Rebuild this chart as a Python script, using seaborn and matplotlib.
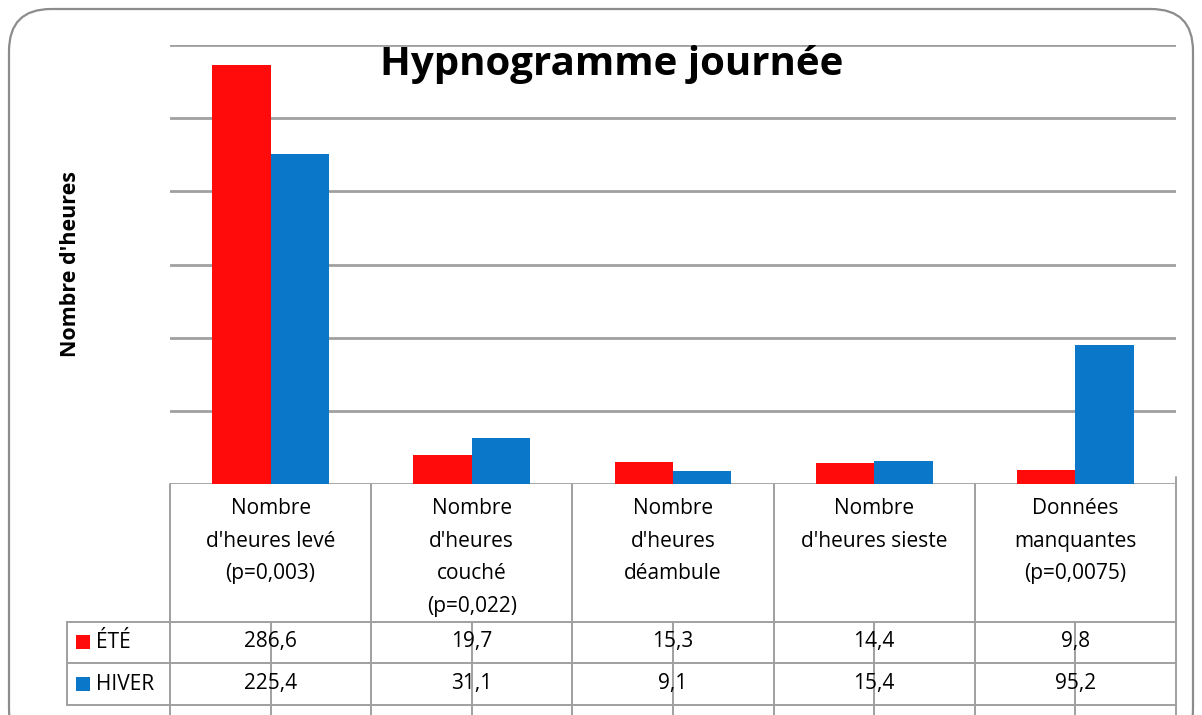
import matplotlib
matplotlib.use('Agg')
import matplotlib.pyplot as plt
from matplotlib.patches import FancyBboxPatch, Rectangle
import seaborn as sns
import pandas as pd

# --- data ---
categories = [
    "Nombre\nd'heures levé\n(p=0,003)",
    "Nombre\nd'heures\ncouché\n(p=0,022)",
    "Nombre\nd'heures\ndéambule",
    "Nombre\nd'heures sieste",
    "Données\nmanquantes\n(p=0,0075)",
]
saisons = ['ÉTÉ', 'HIVER']
ete = [286.6, 19.7, 15.3, 14.4, 9.8]
hiver = [225.4, 31.1, 9.1, 15.4, 95.2]
colors = ['#ff0b0b', '#0a77c9']

df = pd.DataFrame({
    'categorie': categories * 2,
    'saison': [saisons[0]] * len(ete) + [saisons[1]] * len(hiver),
    'heures': ete + hiver,
})

sns.set_style('white')
plt.rcParams['font.family'] = ['Open Sans', 'DejaVu Sans']
plt.rcParams['text.color'] = 'black'

W, H = 1202, 715
fig = plt.figure(figsize=(W / 100, H / 100), dpi=100)

# plot area in pixels: x 170..1176, y 45..484
x0, x1, ytop, ybase = 170, 1176, 45, 484
ax = fig.add_axes([x0 / W, (H - ybase) / H, (x1 - x0) / W, (ybase - ytop) / H])

sns.barplot(data=df, x='categorie', y='heures', hue='saison', order=categories,
            hue_order=saisons, palette=colors, width=0.58, gap=0, saturation=1,
            linewidth=0, edgecolor='none', legend=False, ax=ax)

grid_c = '#a0a0a0'
ax.set_xlim(-0.5, len(categories) - 0.5)
ax.set_ylim(0, 300)
ax.set_yticks(range(0, 301, 50))
ax.set_axisbelow(True)
ax.grid(axis='y', color=grid_c, linewidth=2)
ax.grid(axis='x', visible=False)
for s in ax.spines.values():
    s.set_visible(False)
ax.tick_params(axis='y', left=False, labelleft=False)
ax.tick_params(axis='x', length=6, width=1.2, color=grid_c, labelbottom=False)
ax.set_xlabel('')
ax.set_ylabel('')

# --- data table under the chart ---
axh = ybase - ytop
tr = ax.get_xaxis_transform()


def fy(py):
    return (ybase - py) / axh


col_w = (x1 - x0) / len(categories)
left_x = -0.5 - (x0 - 67) / col_w
line_kw = dict(color=grid_c, linewidth=1.4, transform=tr, clip_on=False)

for i in range(len(categories) + 1):
    top = fy(477) if i == len(categories) else fy(ybase)
    ax.plot([i - 0.5, i - 0.5], [top, fy(H)], **line_kw)
for py in [622, 663, 705]:
    ax.plot([left_x, len(categories) - 0.5], [fy(py), fy(py)], **line_kw)
ax.plot([left_x, left_x], [fy(622), fy(705)], **line_kw)
for i in range(len(categories)):
    ax.plot([i, i], [fy(622), fy(H)], **line_kw)

txt_size = 15
for i, cat in enumerate(categories):
    ax.text(i, fy(498), cat, transform=tr, ha='center', va='top',
            fontsize=txt_size, linespacing=1.72, clip_on=False)
    ax.text(i, fy(641), f'{ete[i]:.1f}'.replace('.', ','), transform=tr,
            ha='center', va='center', fontsize=txt_size, clip_on=False)
    ax.text(i, fy(683), f'{hiver[i]:.1f}'.replace('.', ','), transform=tr,
            ha='center', va='center', fontsize=txt_size, clip_on=False)

for j, (s, c) in enumerate(zip(saisons, colors)):
    cy = 642 + j * 42
    ax.add_patch(Rectangle((-0.5 - (x0 - 76) / col_w, fy(cy + 7)), 14 / col_w,
                           14 / axh, transform=tr, facecolor=c,
                           edgecolor='none', clip_on=False))
    ax.text(-0.5 - (x0 - 96) / col_w, fy(cy), s, transform=tr, ha='left',
            va='center', fontsize=txt_size, clip_on=False)

# --- titles ---
fig.text(612 / W, 1 - 65 / H, 'Hypnogramme journée', ha='center', va='center',
         fontsize=29, fontweight='bold')
fig.text(70 / W, 1 - 264 / H, "Nombre d'heures", ha='center', va='center',
         rotation=90, fontsize=15.5, fontweight='bold')

# rounded chart border
border = FancyBboxPatch((9 / W, -0.05), (W - 18) / W, 1 - 9 / H + 0.05,
                        boxstyle='round,pad=0,rounding_size=0.035',
                        transform=fig.transFigure, facecolor='none',
                        edgecolor='#8c8c8c', linewidth=1.6, mutation_aspect=W / H)
fig.patches.append(border)

fig.savefig('out.png', dpi=100)
